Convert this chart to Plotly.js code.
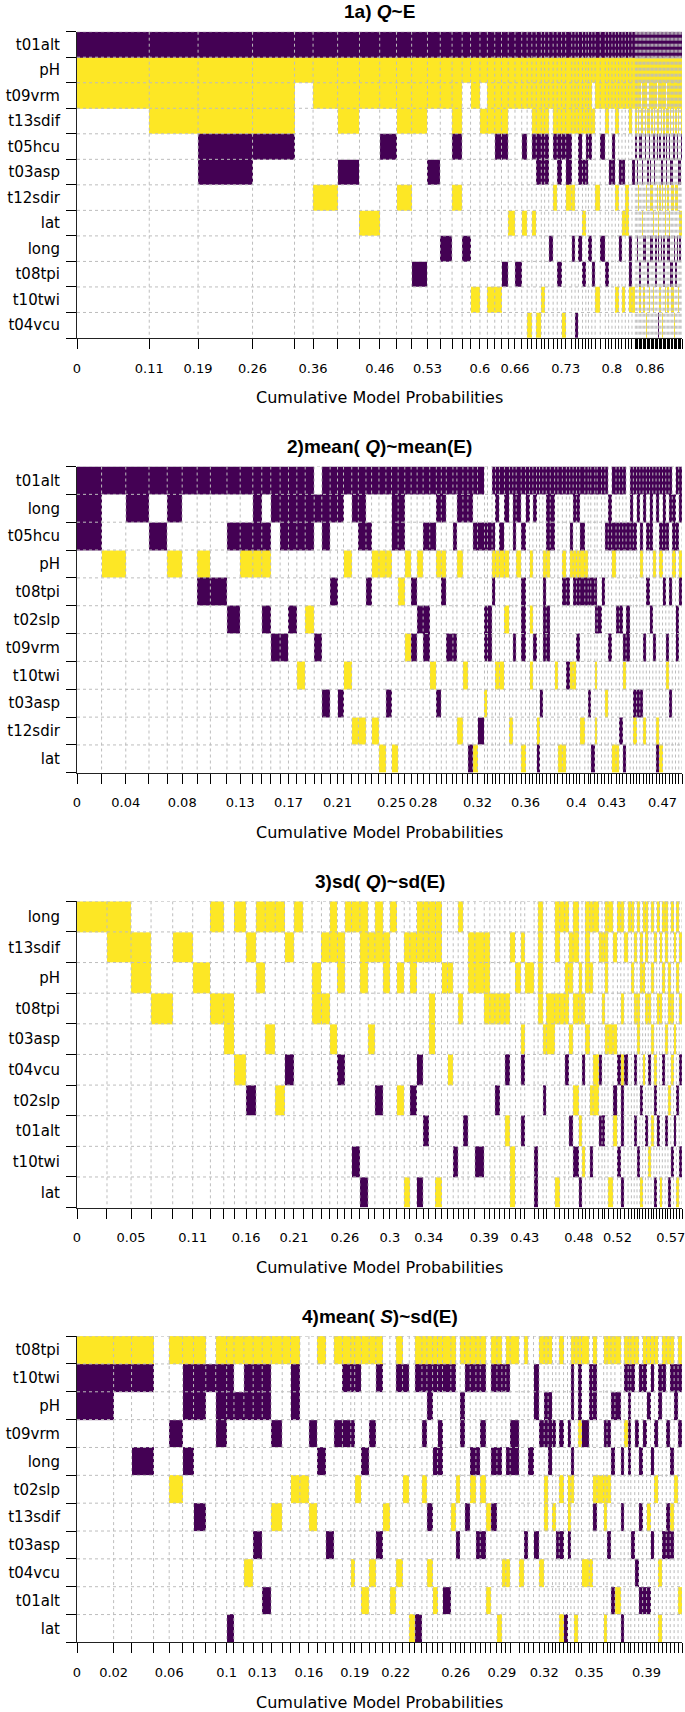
<!DOCTYPE html>
<html><head><meta charset="utf-8">
<script src="https://cdn.plot.ly/plotly-3.0.1.min.js"></script>
<style>body{margin:0;background:#fff}#chart{width:685px;height:1712px}</style>
</head><body><div id="chart"></div>
<script>
// ---------------- Panel 1 ----------------
const p1Title = "<b>1a) <i>Q</i>~E</b>";
const p1Vars = ["t01alt","pH","t09vrm","t13sdif","t05hcu","t03asp","t12sdir","lat","long","t08tpi","t10twi","t04vcu"];
const p1Probs = [0.1083,0.0732,0.0817,0.0629,0.0278,0.0368,0.0328,
0.0303,0.0252,0.0227,0.0237,0.0192,0.0177,0.0151,0.0126,0.0141,0.0111,0.0111,0.0101,0.0101,0.0101,0.0101,
0.0081,0.0071,0.0066,0.0076,0.0050,0.0061,0.0066,0.0061,0.0066,0.0061,0.0091,0.0050,0.0050,0.0061,0.0050,
0.0040,0.0050,0.0050,0.0076,0.0076,0.0050,0.0050,0.0050,0.0050,0.0050,0.0050,0.0050,0.0050,0.0050,
0.0020,0.0020,0.0020,0.0020,0.0020,0.0020,0.0020,0.0020,0.0020,0.0020,0.0020,0.0020,0.0020,0.0020,0.0020,
0.0020,0.0020,0.0020,0.0020,0.0020,0.0020,0.0020,0.0020,0.0020,0.0020,0.0020,0.0020,0.0020,0.0020,0.0020,
0.0020,0.0020,0.0020,0.0020,0.0020,0.0020,0.0020,0.0020];
const p1Models = ["-++.........","-+++........","-+++--......","-+++-.......","-+..........","-++...+.....","-+++.-......",
"-++....+....","-++.-.......","-+++..+.....","-+++.....-..","-++..-......","-++.....-...","-+++-.+.....",
"-+......-...","-++.......+.","-+.+........","-+++......+.","-+++-.....+.","-+++-....-..","-++....+....",
"-++......-..","-++.-..+....","-++........+","-+++-..+....","-+++--.....+","-+++--....+.","-+++--......",
"-++.....-...","-+++-.+.....","-+++--...-..","-+++-......+","-+++--+.....","-+++..+.-...","-+++.......-",
"-+++--..-...","-+++.-.+.-..","-+++--......","-+++-...-...","-+.+.....-..","-++...+...+.","-++.-...-...",
"-+++.....-..","-++..-......","-++.--......","-+++..+...+.","-++..-..-...","-++..-.+..+.","-++...++....",
"-+++....--+.","-++..-....+.",
"-+++-.......","-++..-..-...","-+++..+.....","-++.-....-+.","-+.+-.......","-+++.-.+....","-++.....-.+.",
"-+++-...-...","-++...+....+","-+.+.-...-..","-+++-.....+.","-++..-+.-...","-+++..+.-...","-++.-..+..+.",
"-+++--......","-++.....--..","-+.+-.+.....","-+++...+-..-","-++.-.+...+.","-+++.-..-...","-++..-+....+",
"-+++-...--..","-++...++..+.","-+.+--......","-+++..+.-.+.","-++.-..+-...","-+++.-...-..","-++..-+..-+.",
"-+++-.+...+.","-++.-...-..+","-+++..+..-..","-++.-.+.-...","-+++.-....+.","-++..-.+-...","-+++-..+...."];
const p1Ticks = ["0","0.11","0.19","0.26","0.36","0.46","0.53","0.6","0.66","0.73","0.8","0.86"];

// ---------------- Panel 2 ----------------
const p2Title = "<b>2)mean( <i>Q</i>)~mean(E)</b>";
const p2Vars = ["t01alt","long","t05hcu","pH","t08tpi","t02slp","t09vrm","t10twi","t03asp","t12sdir","lat"];
const p2Probs = [0.0197,0.0194,0.0186,0.0146,0.0120,0.0120,0.0106,0.0133,0.0106,0.0101,0.0072,0.0072,0.0075,0.0067,
0.0067,0.0067,0.0072,0.0061,0.0067,0.0059,0.0048,0.0066,
0.0053,0.0061,0.0045,0.0059,0.0056,0.0045,0.0053,0.0053,0.0051,0.0048,0.0048,0.0053,0.0053,0.0040,0.0040,0.0053,
0.0032,0.0048,0.0040,0.0040,0.0037,0.0056,0.0024,0.0037,0.0027,0.0032,0.0040,0.0040,0.0027,0.0027,0.0040,0.0035,
0.0032,0.0027,0.0029,0.0024,0.0027,0.0027,0.0032,0.0035,0.0027,0.0035,0.0032,0.0027,0.0027,0.0027,0.0027,0.0040,
0.0027,0.0021,0.0032,0.0019,0.0035,0.0027,0.0027,0.0027,0.0035,0.0027,0.0027,0.0027,0.0032,
0.0026,0.0026,0.0026,0.0026,0.0026,0.0026,0.0026,0.0026,0.0026,0.0026,0.0026,0.0026,0.0026,0.0026,0.0026,0.0026];
const p2Models = ["---........","-..+.......","--.........","-.-........","--.+.......","-..........","-..+-......",
"-...-......","-.-..-.....","-.-+.......","---+.......","-.-+.-.....","--....-....","---...-....","---..-.....",
"---....+...","---..+.....",".-....-....","---.....-..","--..-......","--......-..","-..+...+...",
"--.......+.","---......+.","-.-.-......","-..+.....+.","-..+......+","-..+....-..","---.......+","---.+......",
"-..+..+....","-...-.-....","-..+.-.....","-.-..--....","-.-....+...","--.+....-..","--.+-......","-.....-....",
"-.-...-....","--.+.....+.","--.....+...","--........-","-.-.......+","-.-......-.","..-..--.+..","..-..--....",
"-.-+-......","--.+...+...","-.-+...+...","--.+.+.....","-........+.","---...-....","--.+.......","-.-.---...+",
"--.........","-..+.+.+...","--....-....","-........+-","-.......-..","-..+---....","---+.--....","---........",
"-......+...","-.........+","-..+-.....+","-...-..-...","-.-+...+...","--.+-..+...","--.+-.-....","-.-+-....+.",
"-..+-......","-...-...-..","-...-.....-","-...--.+.+.","-....-.....","-...-......","-.-.....+..",".--...-....",
"-.-+......+","-.-..-....+","-.-..-...-.","-.-...-+..-","..-..--....",
"---........","-.-.....-+.","--......-..","-.-+....-..","--....-..+.","-.-.-......","---..-.....","-..+..-....",
"--.......+-","-.-+......+","---.-......","-.-...-+...","--..-...-..",".--+.......","-.-..--....","--.+-......"];
const p2Ticks = ["0","0.04","0.08","0.13","0.17","0.21","0.25","0.28","0.32","0.36","0.4","0.43","0.47"];

// ---------------- Panel 3 ----------------
const p3Title = "<b>3)sd( <i>Q</i>)~sd(E)</b>";
const p3Vars = ["long","t13sdif","pH","t08tpi","t03asp","t04vcu","t02slp","t01alt","t10twi","lat"];
const p3Probs = [0.0288,0.0231,0.0192,0.0208,0.0192,0.0170,0.0128,0.0103,0.0112,0.0096,0.0087,0.0096,0.0090,0.0090,
0.0087,0.0087,0.0090,0.0080,0.0074,0.0071,0.0064,
0.0080,0.0080,0.0064,0.0080,0.0064,0.0064,0.0074,0.0054,0.0064,0.0064,0.0054,0.0064,0.0058,0.0058,0.0054,0.0048,
0.0048,0.0048,0.0064,0.0090,0.0054,0.0048,0.0048,0.0048,0.0048,0.0054,0.0051,0.0038,0.0090,0.0038,0.0048,0.0032,
0.0080,0.0048,0.0048,0.0038,0.0042,0.0054,0.0032,0.0032,0.0042,0.0032,0.0054,0.0032,0.0026,0.0032,0.0048,0.0042,
0.0032,0.0032,0.0038,0.0032,
0.0027,0.0027,0.0027,0.0027,0.0027,0.0027,0.0027,0.0027,0.0027,0.0027,0.0027,0.0027,0.0027,0.0027,0.0027,0.0027,
0.0027,0.0027];
const p3Models = ["+.........","++........",".++.......","...+......",".+........","..+.......","+..+......",
"...++.....","+....+....",".+....-...","+.+.......","+...+.....","+.....+...",".+...-....","+.........",
"..........","..++......",".+.+......","++..+.....",".++..-....","+.........",
"+.......-.","+++......-",".+..+.....","++....-...",".++.......","+.........","..+...+...",".+.......+",
".++...-...","++...-...-","++.....-..","++.++.....","++.......+","..+.......","..+..+....","........-.",
"+..+......",".......-..",".++.......",".++.....-.",".+++......","...+......","...+..-...","...+......",
"...+.-.+..",".+......++","..+.......",".+..+-.-..","..+.......","........--","++++......","....+.-...",
"...++.....","++.+.....+","+..+......","+.++.-....",".++.+..-..","++.+..+.-.","..++...+.-","...+.-..+.",
"+++.+.....","+.+...+.-.","+....++...",".+...-.-..",".+.+...-..","+++.+.....","+...+....+",".+..+.-+..",
"+....-..-.","+..+.+--.-",".+...-....","+.........",
"+.+.......",".+.+.-.-..","+..++...-.",".++...-..+","+.+..+....","++.+...-..","...+.-..+.","+.+.+..+..",
".+...+-..-","+..+...-..",".+.+.....+","+.+..-....","++..+..-..","..++..+..-","+..+.+..-.",".+..+..-..",
"+.+...-..+",".+.+.-..-."];
const p3Ticks = ["0","0.05","0.11","0.16","0.21","0.26","0.3","0.34","0.39","0.43","0.48","0.52","0.57"];

// ---------------- Panel 4 ----------------
const p4Title = "<b>4)mean( <i>S</i>)~sd(E)</b>";
const p4Vars = ["t08tpi","t10twi","pH","t09vrm","long","t02slp","t13sdif","t03asp","t04vcu","t01alt","lat"];
const p4Probs = [0.0251,0.0123,0.0151,0.0107,0.0092,0.0075,0.0084,0.0068,0.0075,0.0050,0.0068,0.0064,0.0062,0.0062,
0.0075,0.0057,0.0064,0.0062,0.0058,0.0057,0.0057,0.0058,0.0057,
0.0027,0.0046,0.0053,0.0046,0.0046,0.0050,0.0041,0.0046,0.0046,0.0039,0.0048,0.0034,0.0039,0.0034,0.0034,0.0057,
0.0034,0.0030,0.0032,0.0037,0.0039,0.0030,0.0039,0.0034,0.0041,0.0034,0.0027,0.0030,0.0062,0.0034,0.0027,0.0037,
0.0039,0.0034,0.0027,0.0030,0.0023,0.0023,0.0030,0.0027,0.0023,0.0023,0.0027,0.0023,0.0053,0.0023,0.0030,0.0046,
0.0023,0.0027,0.0027,0.0041,0.0023,0.0027,0.0018,
0.0027,0.0027,0.0027,0.0027,0.0027,0.0027,0.0027,0.0027,0.0027,0.0027,0.0027,0.0027,0.0027];
const p4Models = ["+--........","+-.........","+-..-......","...........","+..-.+.....","+--.-......","+--...-....",
".-.........","+---.......","+--.......-","+.-........","+--.....+..","+--....-...","+--......-.","+..-..+....",
"+..........","+--..+.....",".....+.....","...-..+....","+...-......",".......-...","+..-.......","+-.-.......",
"+-.-....+..","+-...+.....","+...-....+.","+..-....+..","+-.....-...","......+....",".........+.","+-......+..",
".-...+.....","..........+","+-........-","+-.-.+.....","+--...-.+..","+-..-....+.","+-.--......","+-.......-.",
"+-....+....",".....+.-...","+.--.......","+-....-....","+-..-+.....","+-..-..-...","+-.-.+.-...","......+..+.",
"+-..-.-....","+-..-.....+",".-......+..","+-..-...+..","+..--......","........+..","+......-...","....-......",
".--....-...","+..-....+..","+.--.++....","+.---......","...-..+....",".......-...","+..-.+.-..+","..........-",
"...-.++-...","+--.-+.....","+.........+","+--+.......","+..-....+..",".--.....+..","+--..+-....",".....+.....",
"+..-.++...+","+..-.+.-...","+.-.-....-.","+.-......+.","....-.-...-","+-.+.......","+----......",
"+-.....-...","+..-....-..",".-..-.-..-.","+-.-.....-.","+.-...+..-.","+-..-..-...","+..-.+.....",
".--.....+.+","+-.....-...","+..-..--...","+-..-.+-...",".--..+.....","+-.-.....+."];
const p4Ticks = ["0","0.02","0.06","0.1","0.13","0.16","0.19","0.22","0.26","0.29","0.32","0.35","0.39"];

// ---------------- build ----------------
const FIG_W = 685, FIG_H = 1712;
const PLOT_L = 77, PLOT_R = 682;
const PANEL_TOP = [31.7, 466.5, 901.3, 1336.1];
const PANEL_H = 306.3;
const PURPLE = "#440154", YELLOW = "#FDE725";

const panels = [
  {title:p1Title, vars:p1Vars, probs:p1Probs, models:p1Models, ticks:p1Ticks},
  {title:p2Title, vars:p2Vars, probs:p2Probs, models:p2Models, ticks:p2Ticks},
  {title:p3Title, vars:p3Vars, probs:p3Probs, models:p3Models, ticks:p3Ticks},
  {title:p4Title, vars:p4Vars, probs:p4Probs, models:p4Models, ticks:p4Ticks}
];

const traces = [];
const layout = {
  width: FIG_W, height: FIG_H, margin:{l:0,r:0,t:0,b:0},
  paper_bgcolor:"#fff", plot_bgcolor:"#fff", showlegend:false,
  font:{family:"DejaVu Sans, Verdana, sans-serif", color:"#000", size:13},
  annotations: []
};
const py = px => 1 - px / FIG_H;

panels.forEach((p, k) => {
  const n = p.vars.length;
  const m = Math.min(p.probs.length, p.models.length);
  const edges = [0];
  for (let j = 0; j < m; j++) edges.push(edges[j] + p.probs[j]);
  const total = edges[m];
  const z = [];
  for (let i = 0; i < n; i++) {
    const row = [];
    for (let j = 0; j < m; j++) {
      const c = (p.models[j] || "").charAt(i);
      row.push(c === "-" ? -1 : (c === "+" ? 1 : 0));
    }
    z.push(row);
  }
  const rowEdges = [];
  for (let i = 0; i <= n; i++) rowEdges.push(i);
  const xa = "x" + (k + 1), ya = "y" + (k + 1);
  traces.push({
    type:"heatmap", x:edges, y:rowEdges, z:z, xaxis:xa, yaxis:ya,
    zmin:-1, zmax:1, showscale:false, hoverinfo:"skip",
    colorscale:[[0,PURPLE],[0.333,PURPLE],[0.334,"#ffffff"],[0.666,"#ffffff"],[0.667,YELLOW],[1,YELLOW]]
  });
  // dotted grid drawn over the cells
  const gx = [], gy = [];
  for (let j = 1; j <= m; j++) { gx.push(edges[j], edges[j], null); gy.push(0, n, null); }
  for (let i = 0; i < n; i++) { gx.push(0, total, null); gy.push(i, i, null); }
  traces.push({type:"scatter", mode:"lines", x:gx, y:gy, xaxis:xa, yaxis:ya, hoverinfo:"skip",
    line:{color:"#bdbdbd", width:1, dash:"dot"}, connectgaps:false});

  // printed labels go on the model boundary closest to each printed value
  const ticktext = edges.map(() => "");
  p.ticks.forEach(t => {
    const v = parseFloat(t);
    let best = -1, bd = 1e9;
    edges.forEach((e, idx) => { if (ticktext[idx] === "" && Math.abs(e - v) < bd) { bd = Math.abs(e - v); best = idx; } });
    if (best >= 0) ticktext[best] = t;
  });

  const top = PANEL_TOP[k], bot = top + PANEL_H;
  const sfx = k === 0 ? "" : String(k + 1);
  layout["xaxis" + sfx] = {
    domain:[PLOT_L / FIG_W, PLOT_R / FIG_W], anchor:ya, range:[0, total],
    tickmode:"array", tickvals:edges, ticktext:ticktext, ticks:"outside", ticklen:10, tickwidth:1,
    tickcolor:"#000", ticklabelstandoff:8, ticklabeloverflow:"allow", showgrid:false, zeroline:false,
    showline:true, linecolor:"#222", linewidth:1, tickangle:0,
    tickfont:{family:"DejaVu Sans, Verdana, sans-serif", size:13, color:"#000"}, fixedrange:true
  };
  const centers = p.vars.map((_, i) => i + 0.5);
  layout["yaxis" + sfx] = {
    domain:[py(bot), py(top)], anchor:xa, range:[n, 0],
    tickmode:"array", tickvals:centers, ticktext:p.vars, ticks:"outside", ticklen:10,
    tickcolor:"rgba(0,0,0,0)", ticklabelstandoff:3,
    minor:{tickmode:"array", tickvals:rowEdges, ticks:"outside", ticklen:10, tickcolor:"#000", tickwidth:1, showgrid:false},
    showgrid:false, zeroline:false, showline:true, linecolor:"#222", linewidth:1,
    tickfont:{family:"DejaVu Sans, Verdana, sans-serif", size:15, color:"#000"}, fixedrange:true
  };
  const cx = (PLOT_L + PLOT_R) / 2 / FIG_W;
  layout.annotations.push({
    text:p.title, xref:"paper", yref:"paper", x:cx, y:py(top - 20), xanchor:"center", yanchor:"middle",
    showarrow:false, font:{family:"Liberation Sans, Arial, sans-serif", size:19, color:"#000"}
  });
  layout.annotations.push({
    text:"Cumulative Model Probabilities", xref:"paper", yref:"paper", x:cx, y:py(bot + 60),
    xanchor:"center", yanchor:"middle", showarrow:false,
    font:{family:"DejaVu Sans, Verdana, sans-serif", size:16, color:"#000"}
  });
});

Plotly.newPlot("chart", traces, layout, {displayModeBar:false, staticPlot:true});
</script>
</body></html>
